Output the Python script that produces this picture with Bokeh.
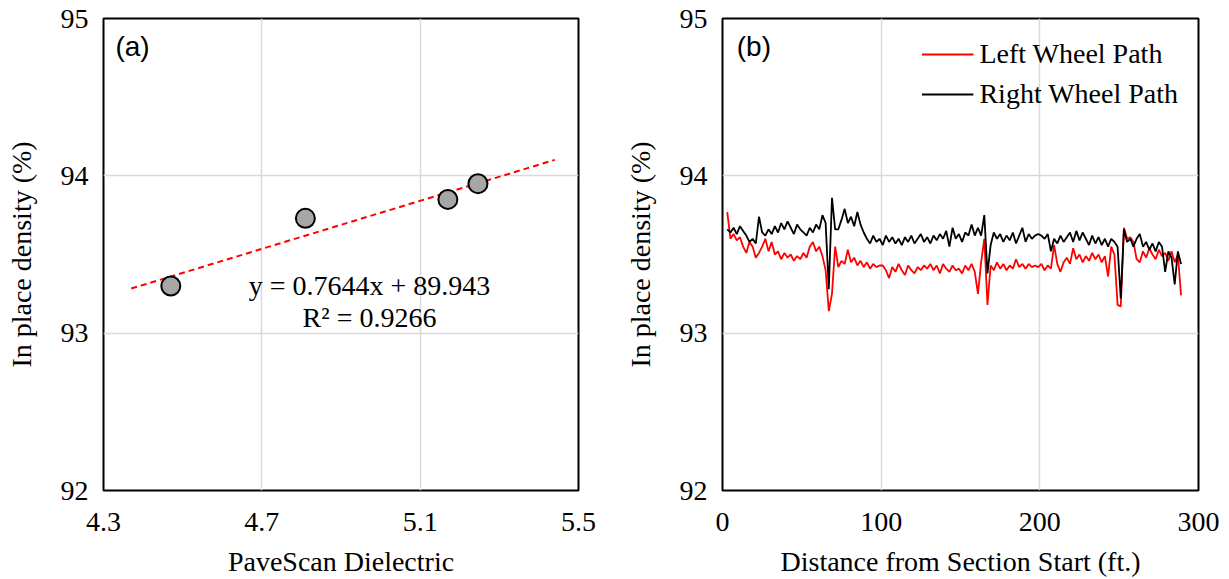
from bokeh.plotting import figure
from bokeh.layouts import row
from bokeh.models import FixedTicker, Label, Legend, LegendItem
from bokeh.embed import file_html
from bokeh.resources import INLINE

# ---------------- data ----------------
dielectric = [4.47, 4.81, 5.17, 5.246]
density_a = [93.30, 93.73, 93.85, 93.95]
trend_slope = 0.7644
trend_intercept = 89.943
trend_x = [4.37, 5.44]
equation_text = "y = 0.7644x + 89.943"
r2_text = "R\u00b2 = 0.9266"

distance = list(range(3, 290, 2))
left_wheel = [
    93.77, 93.60, 93.63, 93.59, 93.61, 93.55, 93.51, 93.58, 93.55, 93.48, 93.51, 93.55,
    93.60, 93.52, 93.58, 93.50, 93.52, 93.47, 93.51, 93.48, 93.50, 93.46, 93.49, 93.47,
    93.51, 93.48, 93.55, 93.58, 93.52, 93.55, 93.49, 93.40, 93.14, 93.25, 93.55, 93.42,
    93.46, 93.44, 93.53, 93.45, 93.48, 93.43, 93.46, 93.42, 93.45, 93.41, 93.44, 93.42, 93.43,
    93.43, 93.40, 93.35, 93.42, 93.39, 93.44, 93.40, 93.37, 93.43, 93.40, 93.38, 93.42,
    93.40, 93.43, 93.41, 93.44, 93.40, 93.43, 93.38, 93.44, 93.41, 93.39, 93.43, 93.40,
    93.41, 93.38, 93.43, 93.40, 93.44, 93.39, 93.25, 93.45, 93.60, 93.18, 93.43, 93.40,
    93.45, 93.41, 93.44, 93.40, 93.43, 93.41, 93.47, 93.42, 93.44, 93.41, 93.44, 93.42, 93.43,
    93.42, 93.44, 93.40, 93.43, 93.41, 93.56, 93.44, 93.39, 93.45, 93.48, 93.44, 93.54,
    93.47, 93.50, 93.45, 93.49, 93.46, 93.51, 93.47, 93.50, 93.45, 93.49, 93.36, 93.55,
    93.50, 93.18, 93.17, 93.67, 93.60, 93.61, 93.58, 93.47, 93.45, 93.52, 93.48, 93.54,
    93.50, 93.47, 93.53, 93.49, 93.51, 93.46, 93.52, 93.45, 93.50, 93.24,
]
right_wheel = [
    93.66, 93.64, 93.67, 93.63, 93.68, 93.65, 93.62, 93.58, 93.60, 93.57, 93.74, 93.64,
    93.62, 93.66, 93.63, 93.68, 93.64, 93.70, 93.66, 93.71, 93.67, 93.63, 93.69, 93.66,
    93.64, 93.62, 93.67, 93.64, 93.69, 93.66, 93.75, 93.70, 93.28, 93.86, 93.66, 93.66,
    93.72, 93.79, 93.70, 93.74, 93.68, 93.77, 93.69, 93.64, 93.60, 93.57, 93.62, 93.58, 93.60,
    93.56, 93.62, 93.58, 93.61, 93.57, 93.60, 93.56, 93.61, 93.58, 93.62, 93.57, 93.60,
    93.63, 93.58, 93.61, 93.57, 93.62, 93.59, 93.63, 93.60, 93.65, 93.55, 93.67, 93.60,
    93.63, 93.58, 93.64, 93.62, 93.69, 93.62, 93.67, 93.62, 93.75, 93.38, 93.56, 93.64,
    93.60, 93.63, 93.58, 93.62, 93.59, 93.64, 93.57, 93.62, 93.67, 93.58, 93.63, 93.60, 93.62,
    93.63, 93.62, 93.60, 93.63, 93.52, 93.60, 93.57, 93.62, 93.58, 93.61, 93.64, 93.58,
    93.65, 93.59, 93.64, 93.60, 93.56, 93.62, 93.57, 93.61, 93.56, 93.60, 93.55, 93.60,
    93.58, 93.55, 93.22, 93.66, 93.58, 93.60, 93.55, 93.60, 93.63, 93.55, 93.58, 93.53,
    93.57, 93.52, 93.58, 93.55, 93.39, 93.52, 93.48, 93.31, 93.52, 93.44,
]

x_ticks_a = [4.3, 4.7, 5.1, 5.5]
x_ticks_b = [0, 100, 200, 300]
y_ticks = [92, 93, 94, 95]

SERIF = "Liberation Serif"
SANS = "Liberation Sans"
FS = "28px"


def style(p, xticks, xlabel):
    p.xaxis.ticker = FixedTicker(ticks=xticks)
    p.yaxis.ticker = FixedTicker(ticks=y_ticks)
    p.xaxis.axis_label = xlabel
    p.yaxis.axis_label = "In place density (%)"
    for ax in (p.xaxis[0], p.yaxis[0]):
        ax.axis_line_color = None
        ax.major_tick_line_color = None
        ax.minor_tick_line_color = None
        ax.major_tick_out = 0
        ax.major_tick_in = 0
        ax.major_label_text_font = SERIF
        ax.major_label_text_font_size = FS
        ax.major_label_text_color = "black"
        ax.axis_label_text_font = SERIF
        ax.axis_label_text_font_size = FS
        ax.axis_label_text_font_style = "normal"
        ax.axis_label_text_color = "black"
    p.yaxis.major_label_standoff = 15
    p.yaxis.axis_label_standoff = 21
    p.xaxis.major_label_standoff = 22
    p.xaxis.axis_label_standoff = 12
    p.grid.grid_line_color = "#d9d9d9"
    p.grid.grid_line_width = 1.5
    p.outline_line_color = "black"
    p.outline_line_width = 2
    p.background_fill_color = "white"
    p.border_fill_color = "white"


# ---------------- panel (a) ----------------
p1 = figure(width=619, height=579, x_range=(4.3, 5.5), y_range=(92, 95),
            output_backend="svg", toolbar_location=None,
            min_border_left=103, min_border_right=41, min_border_top=18, min_border_bottom=88)
style(p1, x_ticks_a, "PaveScan Dielectric")
trend_y = [trend_slope * x + trend_intercept for x in trend_x]
p1.line(trend_x, trend_y, line_color="red", line_width=2, line_dash="6 4")
p1.scatter(dielectric, density_a, size=19, fill_color="#a6a6a6", line_color="black", line_width=2)
p1.add_layout(Label(x=4.972, y=93.30, text=equation_text, text_font=SERIF, text_font_size=FS,
                    text_align="center", text_baseline="middle", text_color="black"))
p1.add_layout(Label(x=4.972, y=93.10, text=r2_text, text_font=SERIF, text_font_size=FS,
                    text_align="center", text_baseline="middle", text_color="black"))
p1.add_layout(Label(x=4.33, y=94.82, text="(a)", text_font=SANS, text_font_size="28px",
                    text_baseline="middle", text_color="black"))

# ---------------- panel (b) ----------------
p2 = figure(width=609, height=579, x_range=(0, 300), y_range=(92, 95),
            output_backend="svg", toolbar_location=None,
            min_border_left=103, min_border_right=30, min_border_top=18, min_border_bottom=88)
style(p2, x_ticks_b, "Distance from Section Start (ft.)")
r_left = p2.line(distance, left_wheel, line_color="#ff0000", line_width=1.8)
r_right = p2.line(distance, right_wheel, line_color="black", line_width=1.8)
legend = Legend(items=[LegendItem(label="Left Wheel Path", renderers=[r_left]),
                       LegendItem(label="Right Wheel Path", renderers=[r_right])],
                location="top_right", border_line_color=None, background_fill_alpha=0,
                label_text_font=SERIF, label_text_font_size=FS, label_text_color="black",
                glyph_width=52, glyph_height=28, label_height=28, label_standoff=6,
                spacing=8, margin=20, padding=10)
p2.add_layout(legend)
p2.add_layout(Label(x=9, y=94.82, text="(b)", text_font=SANS, text_font_size="28px",
                    text_baseline="middle", text_color="black"))

layout = row(p1, p2)
open("out.html", "w").write(file_html(layout, INLINE))
